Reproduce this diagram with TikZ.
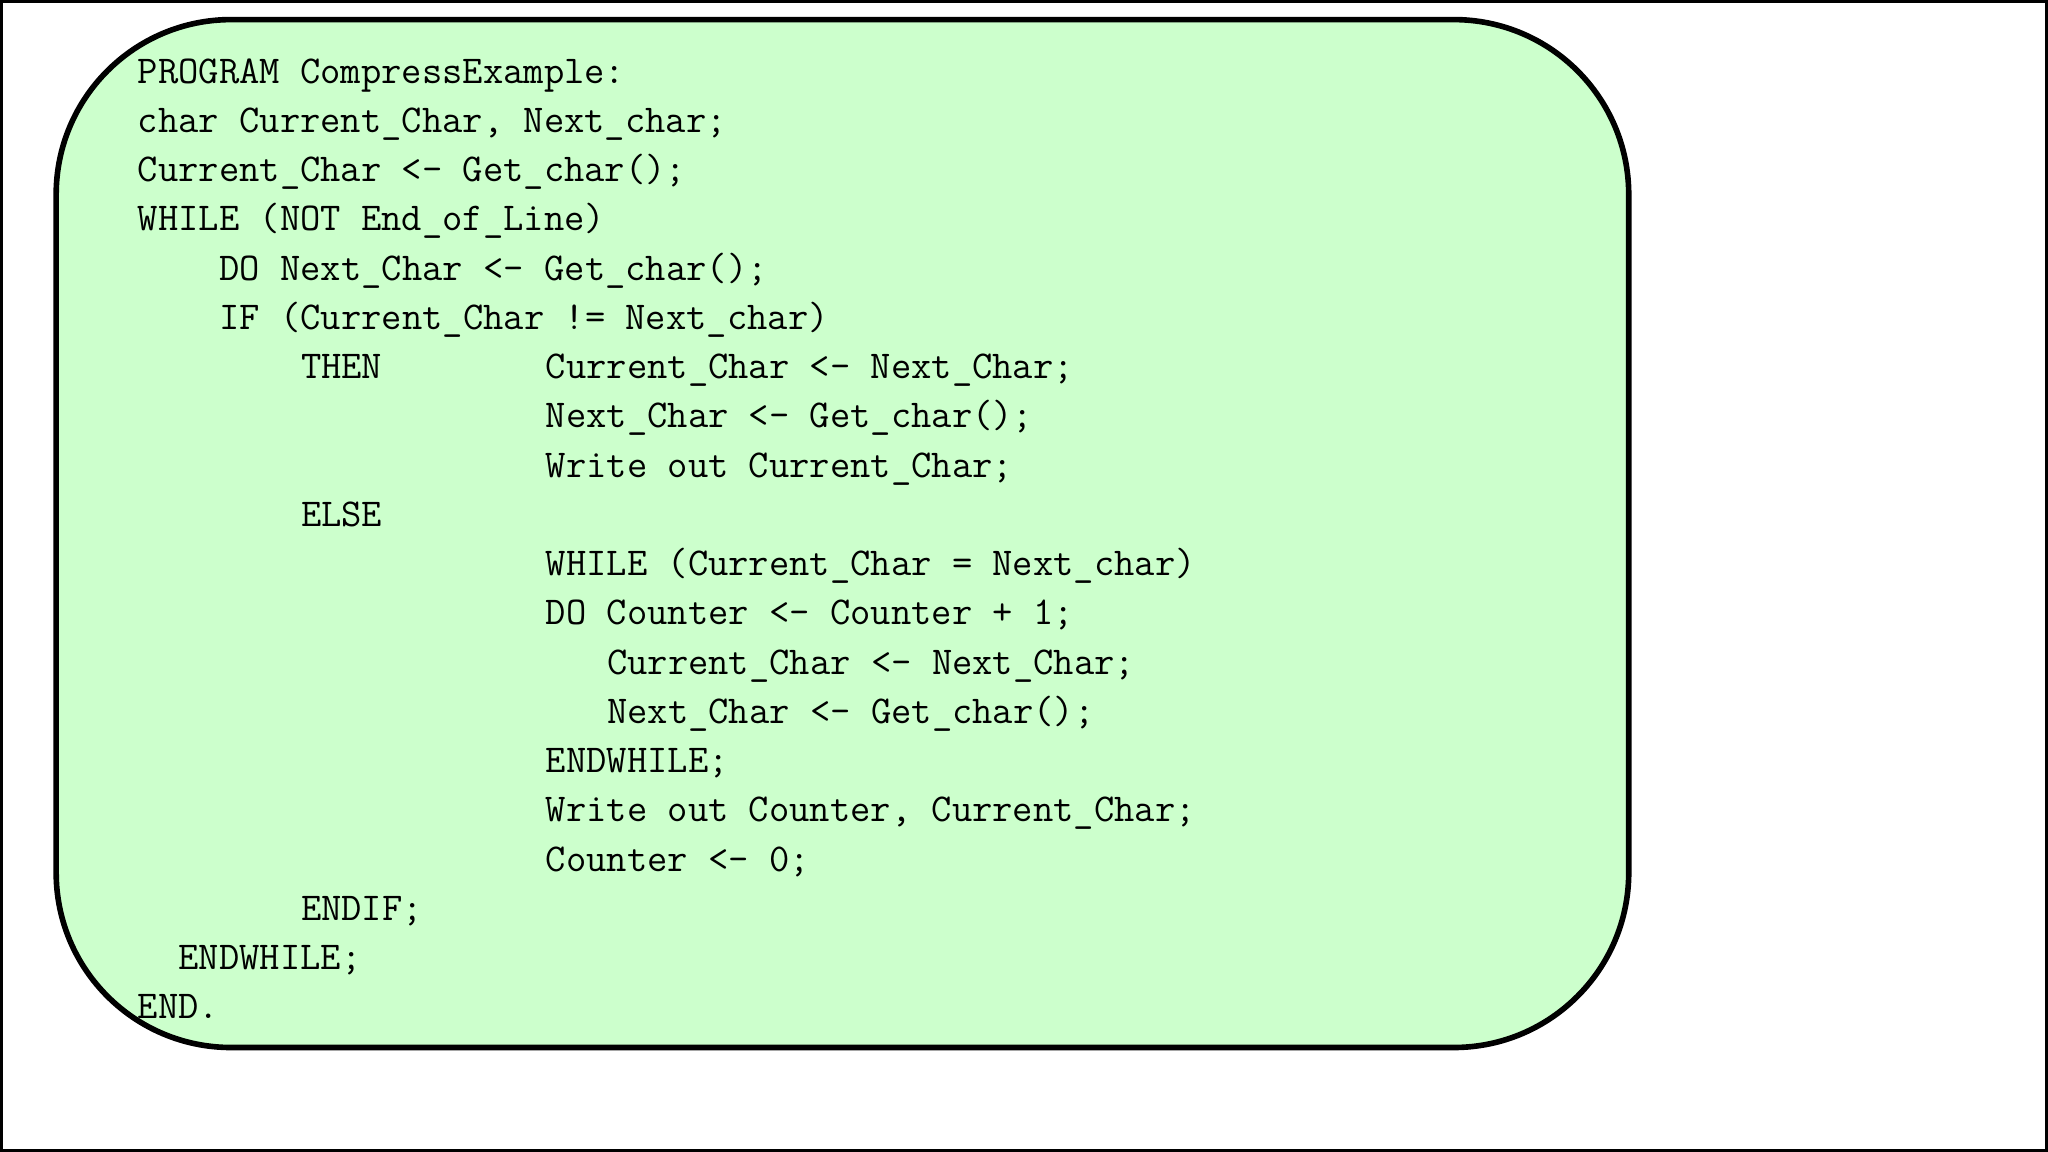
\documentclass[tikz,border=0pt]{standalone}
\begin{document}
\begin{tikzpicture}[x=0.013061cm,y=-0.013061cm,
  code/.style={anchor=west,inner sep=0pt,font=\ttfamily\fontsize{11.22}{13}\selectfont,text height=0.55em,text depth=0.05em}]
\useasboundingbox (0,0) rectangle (1568,882);
\draw[line width=1.2pt] (1,1) rectangle (1567,881);
\draw[fill={rgb,255:red,204;green,255;blue,204},line width=1.6pt,rounded corners=1.75cm] (43,15) rectangle (1247,802);
\def\cw{15.62}
\def\ly#1{57+37.7*(#1)}
\node[code] (l1) at (105,{\ly0}) {PROGRAM CompressExample:};
\node[code] (l2) at (105,{\ly1}) {char Current\_Char, Next\_char;};
\node[code] (l3) at (105,{\ly2}) {Current\_Char <- Get\_char();};
\node[code] (l4) at (105,{\ly3}) {WHILE (NOT End\_of\_Line)};
\node[code] (l5) at ({105+4*\cw},{\ly4}) {DO Next\_Char <- Get\_char();};
\node[code] (l6) at ({105+4*\cw},{\ly5}) {IF (Current\_Char != Next\_char)};
\node[code] (l7a) at ({105+8*\cw},{\ly6}) {THEN};
\node[code] (l7) at ({105+20*\cw},{\ly6}) {Current\_Char <- Next\_Char;};
\node[code] (l8) at ({105+20*\cw},{\ly7}) {Next\_Char <- Get\_char();};
\node[code] (l9) at ({105+20*\cw},{\ly8}) {Write out Current\_Char;};
\node[code] (l10) at ({105+8*\cw},{\ly9}) {ELSE};
\node[code] (l11) at ({105+20*\cw},{\ly{10}}) {WHILE (Current\_Char = Next\_char)};
\node[code] (l12) at ({105+20*\cw},{\ly{11}}) {DO Counter <- Counter + 1;};
\node[code] (l13) at ({105+23*\cw},{\ly{12}}) {Current\_Char <- Next\_Char;};
\node[code] (l14) at ({105+23*\cw},{\ly{13}}) {Next\_Char <- Get\_char();};
\node[code] (l15) at ({105+20*\cw},{\ly{14}}) {ENDWHILE;};
\node[code] (l16) at ({105+20*\cw},{\ly{15}}) {Write out Counter, Current\_Char;};
\node[code] (l17) at ({105+20*\cw},{\ly{16}}) {Counter <- 0;};
\node[code] (l18) at ({105+8*\cw},{\ly{17}}) {ENDIF;};
\node[code] (l19) at ({105+2*\cw},{\ly{18}}) {ENDWHILE;};
\node[code] (l20) at (105,{\ly{19}}) {END.};
\end{tikzpicture}
\end{document}
